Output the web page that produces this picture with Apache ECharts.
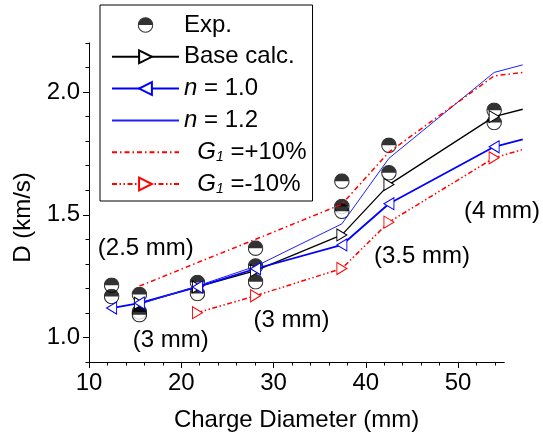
<!DOCTYPE html>
<html>
<head>
<meta charset="utf-8">
<script src="https://cdn.jsdelivr.net/npm/echarts@6/dist/echarts.min.js"></script>
<style>
  html, body { margin: 0; padding: 0; background: #fff; }
  #chart { width: 543px; height: 445px; }
</style>
</head>
<body>
<div id="chart"></div>
<script>
// charge diameters (mm) of the calculated curves
const diam = [12.45, 15.46, 21.75, 28.05, 37.4, 42.5, 53.9, 57.0];
const baseCalc = [null, 1.139, 1.206, 1.272, 1.418, 1.623, 1.900, 1.930];
const n10 = [1.120, 1.140, 1.206, 1.280, 1.377, 1.545, 1.777, 1.807];
const n12 = [null, 1.135, 1.210, 1.290, 1.463, 1.730, 2.080, 2.111];
const gPlus = [null, 1.209, 1.305, 1.400, 1.543, 1.755, 2.066, 2.080];
const gMinus = [null, null, 1.101, 1.170, 1.281, 1.470, 1.732, 1.766];

// experimental points
const expX = [12.45, 12.45, 15.46, 15.46, 15.46, 21.75, 21.75, 28.05, 28.05, 28.05, 37.4, 37.4, 37.4, 42.5, 42.5, 53.9, 53.9];
const expY = [1.213, 1.167, 1.175, 1.104, 1.093, 1.224, 1.179, 1.364, 1.291, 1.227, 1.637, 1.534, 1.514, 1.783, 1.671, 1.926, 1.876];

// annotations
const noteText = ['(2.5 mm)', '(3 mm)', '(3 mm)', '(3.5 mm)', '(4 mm)'];
const noteX = [16.16, 18.86, 31.95, 46.08, 54.76];
const noteY = [1.365, 0.988, 1.07, 1.332, 1.512];

// ticks
const xMajor = [10, 20, 30, 40, 50];
const xMinor = [12, 14, 16, 18, 22, 24, 26, 28, 32, 34, 36, 38, 42, 44, 46, 48, 52, 54];
const yMajor = [1.0, 1.5, 2.0];
const yMinor = [0.9, 1.1, 1.2, 1.3, 1.4, 1.6, 1.7, 1.8, 1.9, 2.1, 2.2];

const FONT = 'Liberation Sans, Arial, sans-serif';

// half filled circle (top black) for Exp.
const expSvg = "<svg xmlns='http://www.w3.org/2000/svg' width='32' height='32' viewBox='0 0 32 32'>" +
  "<circle cx='16' cy='16' r='14.5' fill='#fff'/>" +
  "<path d='M1.5,16 A14.5,14.5 0 0 1 30.5,16 Z' fill='#000'/>" +
  "<circle cx='16' cy='16' r='14.5' fill='none' stroke='#000' stroke-width='2.2'/></svg>";
const expSymbol = 'image://data:image/svg+xml;charset=utf-8,' + encodeURIComponent(expSvg);

const triRight = 'path://M0,0L10,6L0,12Z';
const triLeft = 'path://M10,0L0,6L10,12Z';
const clear = 'rgba(0,0,0,0)';

function pairs(ys) {
  const out = [];
  diam.forEach((x, i) => {
    if (ys[i] == null) return;
    // last point only carries the curve on, no marker
    if (i === diam.length - 1) out.push({ value: [x, ys[i]], symbol: 'none' });
    else out.push([x, ys[i]]);
  });
  return out;
}

function lineSeries(name, ys, color, width, type, symbol) {
  return {
    name: name,
    type: 'line',
    xAxisIndex: 2,
    yAxisIndex: 2,
    data: pairs(ys),
    symbol: symbol || 'circle',
    showSymbol: !!symbol,
    symbolSize: [10, 12],
    lineStyle: { color: color, width: width, type: type || 'solid' },
    itemStyle: symbol
      ? { color: '#fff', borderColor: color, borderWidth: 1 }
      : { color: clear, borderColor: clear, borderWidth: 0 },
    emphasis: { disabled: true }
  };
}

const legendNames = ['Exp.', 'Base calc.', 'n = 1.0', 'n = 1.2', 'G1 =+10%', 'G1 =-10%'];
const legendRich = {
  'Exp.': 'Exp.',
  'Base calc.': 'Base calc.',
  'n = 1.0': '{i|n} = 1.0',
  'n = 1.2': '{i|n} = 1.2',
  'G1 =+10%': '  {i|G}{s|1} =+10%',
  'G1 =-10%': '  {i|G}{s|1} =-10%'
};

const chart = echarts.init(document.getElementById('chart'));

// grid 0 holds the visible axes (x up to 55), grid 1 the data (curves run on to 57)
chart.setOption({
  backgroundColor: '#fff',
  animation: false,
  grid: [
    { left: 89, right: 38.75, top: 43, bottom: 83, containLabel: false, outerBoundsMode: 'none' },
    { left: 89, right: 20.25, top: 43, bottom: 83, containLabel: false, outerBoundsMode: 'none' }
  ],
  legend: {
    data: legendNames,
    orient: 'vertical',
    left: 100,
    top: 5,
    padding: [8, 6, 5, 11],
    itemWidth: 67,
    itemHeight: 16,
    itemGap: 7.8,
    borderColor: '#000',
    borderWidth: 1,
    selectedMode: false,
    formatter: name => legendRich[name],
    textStyle: {
      fontFamily: FONT, fontSize: 24, color: '#000', lineHeight: 24,
      rich: {
        i: { fontFamily: FONT, fontSize: 24, fontStyle: 'italic', color: '#000', lineHeight: 24 },
        s: { fontFamily: FONT, fontSize: 14, fontStyle: 'italic', color: '#000', lineHeight: 8, verticalAlign: 'bottom' }
      }
    }
  },
  xAxis: [{
    type: 'value', gridIndex: 0, min: 10, max: 55, position: 'bottom',
    name: 'Charge Diameter (mm)', nameLocation: 'middle', nameGap: 46,
    nameTextStyle: { fontFamily: FONT, fontSize: 24, color: '#000' },
    axisLine: { lineStyle: { color: '#000', width: 1 } },
    axisTick: { customValues: xMajor, length: 6, lineStyle: { color: '#000' } },
    axisLabel: { customValues: xMajor, fontFamily: FONT, fontSize: 24, color: '#000', margin: 9 },
    splitLine: { show: false }
  }, {
    type: 'value', gridIndex: 0, min: 10, max: 55, position: 'bottom',
    axisLine: { show: false },
    axisTick: { customValues: xMinor, length: 3.5, lineStyle: { color: '#000' } },
    axisLabel: { show: false },
    splitLine: { show: false }
  }, {
    type: 'value', gridIndex: 1, min: 10, max: 57, show: false
  }],
  yAxis: [{
    type: 'value', gridIndex: 0, min: 0.9, max: 2.2, position: 'left',
    name: 'D (km/s)', nameLocation: 'middle', nameGap: 54,
    nameTextStyle: { fontFamily: FONT, fontSize: 24, color: '#000', padding: [0, 30, 0, 0] },
    axisLine: { show: true, lineStyle: { color: '#000', width: 1 } },
    axisTick: { show: true, customValues: yMajor, length: 6, lineStyle: { color: '#000' } },
    axisLabel: { customValues: yMajor, fontFamily: FONT, fontSize: 24, color: '#000', margin: 9,
      formatter: v => Number(v).toFixed(1) },
    splitLine: { show: false }
  }, {
    type: 'value', gridIndex: 0, min: 0.9, max: 2.2, position: 'left',
    axisLine: { show: false },
    axisTick: { show: true, customValues: yMinor, length: 3.5, lineStyle: { color: '#000' } },
    axisLabel: { show: false },
    splitLine: { show: false }
  }, {
    type: 'value', gridIndex: 1, min: 0.9, max: 2.2, show: false
  }],
  series: [
    {
      name: 'Exp.',
      type: 'scatter',
      xAxisIndex: 2,
      yAxisIndex: 2,
      data: expX.map((x, i) => [x, expY[i]]),
      symbol: expSymbol,
      symbolSize: 16,
      symbolKeepAspect: true,
      emphasis: { disabled: true }
    },
    lineSeries('Base calc.', baseCalc, '#000000', 1.3, 'solid', triRight),
    lineSeries('n = 1.0', n10, '#0000ff', 1.8, 'solid', triLeft),
    lineSeries('n = 1.2', n12, '#1f1fff', 1, 'solid', null),
    lineSeries('G1 =+10%', gPlus, '#ff0000', 1.5, [5, 3, 1.5, 3], null),
    lineSeries('G1 =-10%', gMinus, '#ff0000', 1.5, [5, 2.5, 1.5, 2.5, 1.5, 2.5], triRight),
    {
      name: 'notes',
      type: 'scatter',
      xAxisIndex: 2,
      yAxisIndex: 2,
      silent: true,
      clip: false,
      data: noteX.map((x, i) => ({ value: [x, noteY[i]], name: noteText[i] })),
      symbolSize: 1,
      itemStyle: { color: '#fff', opacity: 1 },
      label: {
        show: true, position: 'inside', formatter: p => p.name,
        fontFamily: FONT, fontSize: 24, color: '#000', opacity: 1,
        textBorderWidth: 0, textBorderColor: 'transparent'
      },
      emphasis: { disabled: true },
      z: 5
    }
  ]
});
</script>
</body>
</html>
